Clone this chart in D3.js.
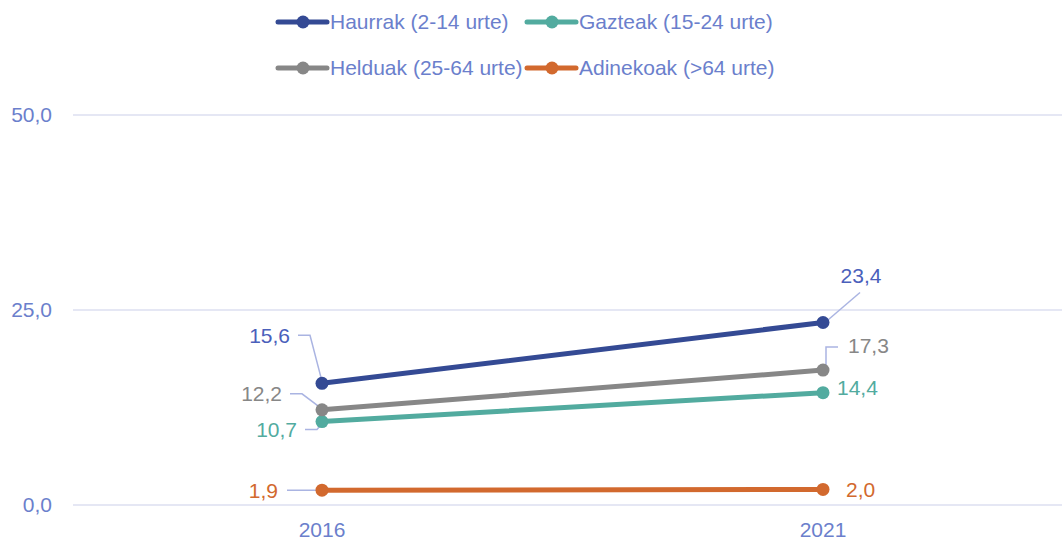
<!DOCTYPE html>
<html><head><meta charset="utf-8">
<script src="https://cdn.jsdelivr.net/npm/d3@7"></script>
<style>
body{margin:0;background:#fff;}
text{font-family:"Liberation Sans",Arial,sans-serif;}
</style></head>
<body><svg id="c" width="1062" height="540"></svg>
<script>
const years = ["2016","2021"];
const seriesNames = ["Haurrak (2-14 urte)","Gazteak (15-24 urte)","Helduak (25-64 urte)","Adinekoak (>64 urte)"];
const haurrak = [15.6, 23.4];
const gazteak = [10.7, 14.4];
const helduak = [12.2, 17.3];
const adinekoak = [1.9, 2.0];
const yTicks = [0, 25, 50];

const colors = ["#344a94","#52ab9f","#878787","#d2692e"];
const labelColors = ["#4a60bb","#52ab9f","#878787","#d2692e"];
const values = [haurrak, gazteak, helduak, adinekoak];

const svg = d3.select("#c");
const x = d3.scalePoint().domain(years).range([71.5,1073.5]).padding(0.5);
const y = d3.scaleLinear().domain([0,50]).range([505,115]);
const fmt = v => d3.format(".1f")(v).replace(".",",");
const axisColor = "#6b7fcc";
const FS = 21;

// grid
svg.append("g").selectAll("line").data(yTicks).join("line")
  .attr("x1",73).attr("x2",1062).attr("y1",d=>y(d)).attr("y2",d=>y(d))
  .attr("stroke","#dcdff0").attr("stroke-width",1.5);
svg.append("g").selectAll("text").data(yTicks).join("text")
  .attr("x",52).attr("y",d=>y(d)).attr("dy","0.35em").attr("text-anchor","end")
  .attr("fill",axisColor).attr("font-size",FS).text(fmt);
svg.append("g").selectAll("text").data(years).join("text")
  .attr("x",d=>x(d)).attr("y",530).attr("dy","0.35em").attr("text-anchor","middle")
  .attr("fill",axisColor).attr("font-size",FS).text(d=>d);

// label layout relative to point
const layout = [
  [ {tx:-32,ty:-48,anchor:"end",lead:[[-24,-48],[-12,-48],[0,-2]]},
    {tx:38,ty:-47,anchor:"middle",lead:[[37,-30],[2,0]]} ],
  [ {tx:-25,ty:8,anchor:"end",lead:[[-17,8],[-5,8],[0,2]]},
    {tx:14,ty:-5,anchor:"start",lead:null} ],
  [ {tx:-40,ty:-16,anchor:"end",lead:[[-32,-16],[-20,-16],[0,-1]]},
    {tx:25,ty:-24,anchor:"start",lead:[[15,-23],[3,-23],[3,-2]]} ],
  [ {tx:-44,ty:0,anchor:"end",lead:[[-35,0],[0,0]]},
    {tx:23,ty:0,anchor:"start",lead:null} ]
];

values.forEach((vals,si)=>{
  vals.forEach((v,i)=>{
    const L = layout[si][i];
    if(!L.lead) return;
    const px=x(years[i]), py=y(v);
    svg.append("path").attr("d", d3.line()(L.lead.map(p=>[px+p[0],py+p[1]])))
      .attr("fill","none").attr("stroke","#aab4e2").attr("stroke-width",1.5);
  });
});

[3,1,2,0].forEach(si=>{
  const vals = values[si];
  const g = svg.append("g");
  g.append("path").datum(vals)
    .attr("d", d3.line().x((d,i)=>x(years[i])).y(d=>y(d)))
    .attr("fill","none").attr("stroke",colors[si]).attr("stroke-width",5).attr("stroke-linecap","round");
  g.selectAll("circle").data(vals).join("circle")
    .attr("cx",(d,i)=>x(years[i])).attr("cy",d=>y(d)).attr("r",6.5).attr("fill",colors[si]);
});

values.forEach((vals,si)=>{
  vals.forEach((v,i)=>{
    const L = layout[si][i];
    svg.append("text").attr("x",x(years[i])+L.tx).attr("y",y(v)+L.ty).attr("dy","0.35em")
      .attr("text-anchor",L.anchor).attr("fill",labelColors[si]).attr("font-size",FS).text(fmt(v));
  });
});

// legend
const legPos = [[278,22],[527,22],[278,68],[527,68]];
seriesNames.forEach((n,si)=>{
  const [lx,ly] = legPos[si];
  const g = svg.append("g");
  g.append("line").attr("x1",lx).attr("x2",lx+49).attr("y1",ly).attr("y2",ly)
    .attr("stroke",colors[si]).attr("stroke-width",5).attr("stroke-linecap","round");
  g.append("circle").attr("cx",lx+25).attr("cy",ly).attr("r",6.5).attr("fill",colors[si]);
  g.append("text").attr("x",lx+52).attr("y",ly).attr("dy","0.35em")
    .attr("fill",axisColor).attr("font-size",FS).text(n);
});
</script></body></html>
